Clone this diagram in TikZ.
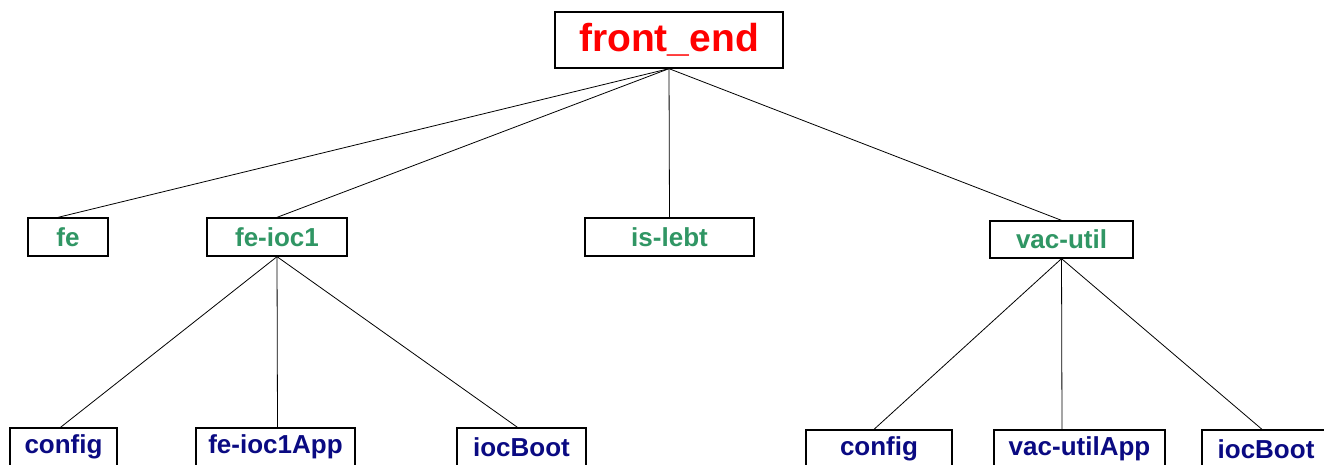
\documentclass[tikz,border=0pt]{standalone}
\usepackage{fontspec}
\setmainfont{Liberation Sans}
\definecolor{dirgreen}{RGB}{48,150,100}
\definecolor{dirblue}{RGB}{10,10,130}
\definecolor{rootred}{RGB}{255,0,0}
\begin{document}
\begin{tikzpicture}[x=1pt,y=-1pt,
  box/.style={draw=black,line width=1.3pt,fill=white,inner sep=0pt,font=\bfseries},
  rootbox/.style={box,text=rootred,font=\fontsize{39}{44}\selectfont\bfseries},
  midbox/.style={box,text=dirgreen,font=\fontsize{26}{30}\selectfont\bfseries,minimum height=38pt},
  leafbox/.style={box,text=dirblue,font=\fontsize{26}{30}\selectfont\bfseries,minimum height=38pt},
  link/.style={draw=black,line width=0.8pt}]
\useasboundingbox (0,0) rectangle (1324,464);
\clip (0,0) rectangle (1324,464);
\fill[white] (0,0) rectangle (1324,464);
% nodes
\node[rootbox,minimum width=228pt,minimum height=56pt] (root) at (669,40) {front\_end};
\node[midbox,minimum width=80pt] (fe) at (68,237) {fe};
\node[midbox,minimum width=140pt] (feioc) at (277,237) {fe-ioc1};
\node[midbox,minimum width=169pt] (islebt) at (669.5,237) {is-lebt};
\node[midbox,minimum width=143pt,minimum height=37pt] (vacutil) at (1061.5,239.5) {vac-util};
\node[leafbox,minimum width=107pt] (config1) at (63.5,447) {config};
\node[leafbox,minimum width=159pt] (feapp) at (275.5,447) {fe-ioc1App};
\node[leafbox,minimum width=129pt] (boot1) at (521.5,447) {iocBoot};
\node[leafbox,minimum width=146pt] (config2) at (879,449) {config};
\node[leafbox,minimum width=171pt] (vacapp) at (1079.5,449) {vac-utilApp};
\node[leafbox,minimum width=128pt] (boot2) at (1266,449) {iocBoot};
% connectors
\draw[link] (root.south) -- ([xshift=-10pt]fe.north);
\draw[link] (root.south) -- (feioc.north);
\draw[link] (root.south) -- (islebt.north);
\draw[link] (root.south) -- (vacutil.north);
\draw[link] (feioc.south) -- ([xshift=-3pt]config1.north);
\draw[link] (feioc.south) -- ([xshift=2pt]feapp.north);
\draw[link] (feioc.south) -- ([xshift=-4pt]boot1.north);
\draw[link] (vacutil.south) -- ([xshift=-5pt]config2.north);
\draw[link] (vacutil.south) -- ([xshift=-17.5pt]vacapp.north);
\draw[link] (vacutil.south) -- ([xshift=-4pt]boot2.north);
\end{tikzpicture}
\end{document}
